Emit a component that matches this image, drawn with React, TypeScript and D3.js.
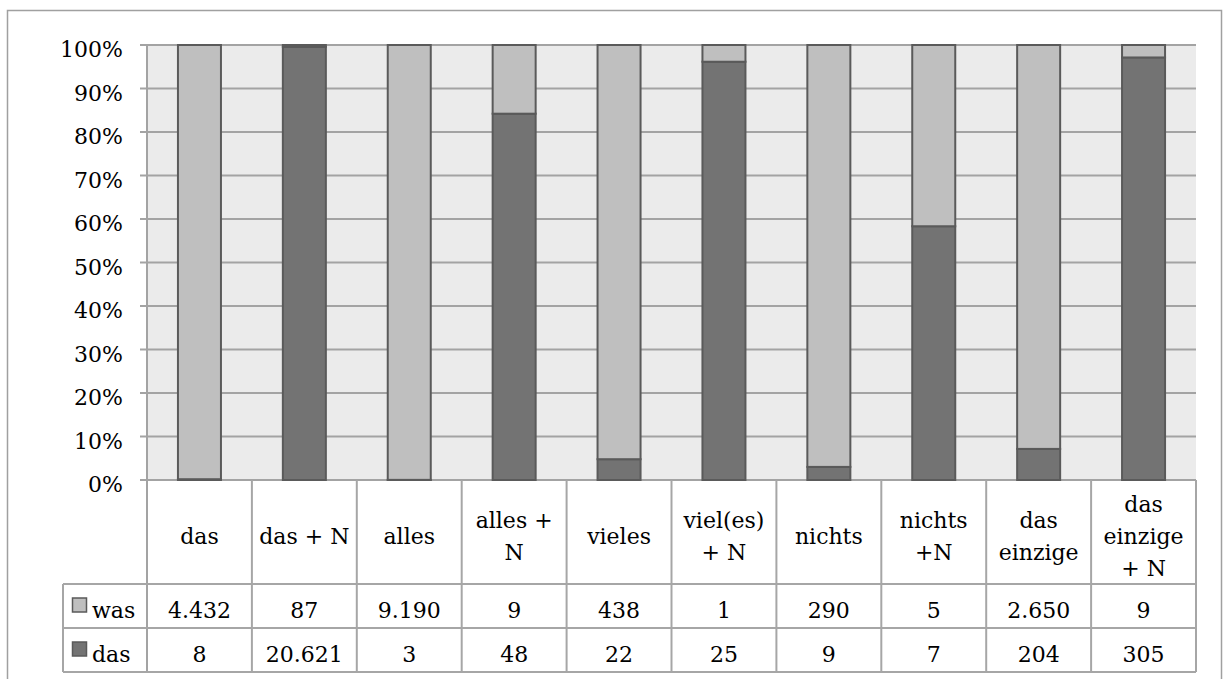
import React from "react";
import * as d3 from "d3";

const categories: string[][] = [
  ["das"],
  ["das + N"],
  ["alles"],
  ["alles +", "N"],
  ["vieles"],
  ["viel(es)", "+ N"],
  ["nichts"],
  ["nichts", "+N"],
  ["das", "einzige"],
  ["das", "einzige", "+ N"],
];
const wasValues = [4432, 87, 9190, 9, 438, 1, 290, 5, 2650, 9];
const dasValues = [8, 20621, 3, 48, 22, 25, 9, 7, 204, 305];
const seriesNames = ["was", "das"];
const yTicks = [0, 0.1, 0.2, 0.3, 0.4, 0.5, 0.6, 0.7, 0.8, 0.9, 1];

const W = 1223;
const H = 679;
const plotL = 147;
const plotR = 1196;
const plotT = 45;
const plotB = 480;
const headerB = 584;
const row1B = 628;
const row2B = 672;
const legendL = 63;

const LIGHT = "#bfbfbf";
const DARK = "#737373";
const BAR_STROKE = "#5a5a5a";
const GRID = "#a3a3a3";
const BORDER = "#a6a6a6";
const BG = "#ebebeb";
const FONT = "'DejaVu Serif', serif";
const FS = 22;

const de = d3.formatLocale({ decimal: ",", thousands: ".", grouping: [3], currency: ["", "€"] });
const fmtNum = de.format(",d");

export default function App() {
  const ids = categories.map((_, i) => String(i));
  const x = d3.scaleBand<string>().domain(ids).range([plotL, plotR]).paddingInner(0.59).paddingOuter(0.295);
  const y = d3.scaleLinear().domain([0, 1]).range([plotB, plotT]);
  const fmtPct = d3.format(".0%");

  const rows = ids.map((id, i) => {
    const total = wasValues[i] + dasValues[i];
    return { id, das: dasValues[i] / total, was: wasValues[i] / total };
  });
  const stack = d3.stack<any>().keys(["das", "was"])(rows);

  const step = x.step();
  const bounds = ids.map((id) => (x(id) as number) - (step * x.paddingInner()) / 2);

  return (
    <svg width={W} height={H} style={{ position: "absolute", left: 0, top: 0, background: "#fff" }} fontFamily={FONT}>
      <rect x={7.5} y={10.5} width={1214} height={700} fill="#fff" stroke="#a0a0a0" strokeWidth={1.5} />
      <rect x={plotL} y={plotT} width={plotR - plotL} height={plotB - plotT} fill={BG} />
      {yTicks.map((t) => (
        <g key={t}>
          <line x1={140} x2={plotR} y1={y(t)} y2={y(t)} stroke={GRID} strokeWidth={2} />
          <text x={123} y={y(t) + 12} textAnchor="end" fontSize={FS} fill="#000">
            {fmtPct(t)}
          </text>
        </g>
      ))}
      <line x1={plotL} x2={plotL} y1={plotT} y2={row2B} stroke={GRID} strokeWidth={2} />
      {stack.map((s) => (
        <g key={s.key}>
          {s.map((d, i) => (
            <rect
              key={i}
              x={x(ids[i])}
              y={y(d[1])}
              width={x.bandwidth()}
              height={Math.max(0, y(d[0]) - y(d[1]))}
              fill={s.key === "das" ? DARK : LIGHT}
              stroke={BAR_STROKE}
              strokeWidth={2}
            />
          ))}
        </g>
      ))}
      {/* data table */}
      <g stroke={BORDER} strokeWidth={2}>
        <line x1={legendL} x2={plotR} y1={headerB} y2={headerB} />
        <line x1={legendL} x2={plotR} y1={row1B} y2={row1B} />
        <line x1={legendL} x2={plotR} y1={row2B} y2={row2B} />
        <line x1={legendL} x2={legendL} y1={headerB} y2={row2B} />
        {bounds.slice(1).map((b, i) => (
          <line key={i} x1={b} x2={b} y1={plotB} y2={row2B} />
        ))}
        <line x1={plotR} x2={plotR} y1={plotB} y2={row2B} />
      </g>
      {categories.map((lines, i) => {
        const cx = (x(ids[i]) as number) + x.bandwidth() / 2;
        const mid = (plotB + headerB) / 2;
        return (
          <g key={i}>
            <text textAnchor="middle" fontSize={FS} fill="#000">
              {lines.map((ln, j) => (
                <tspan key={j} x={cx} y={mid + 12 - (lines.length - 1) * 16 + j * 32}>
                  {ln}
                </tspan>
              ))}
            </text>
            <text x={cx} y={(headerB + row1B) / 2 + 12} textAnchor="middle" fontSize={FS} fill="#000">
              {fmtNum(wasValues[i])}
            </text>
            <text x={cx} y={(row1B + row2B) / 2 + 12} textAnchor="middle" fontSize={FS} fill="#000">
              {fmtNum(dasValues[i])}
            </text>
          </g>
        );
      })}
      {seriesNames.map((name, k) => {
        const top = k === 0 ? headerB : row1B;
        const bot = k === 0 ? row1B : row2B;
        const c = (top + bot) / 2;
        return (
          <g key={name}>
            <rect x={72.5} y={c - 8} width={14} height={14} fill={k === 0 ? LIGHT : DARK} stroke={BAR_STROKE} strokeWidth={1.5} />
            <text x={92} y={c + 12} fontSize={FS} fill="#000">
              {name}
            </text>
          </g>
        );
      })}
    </svg>
  );
}
